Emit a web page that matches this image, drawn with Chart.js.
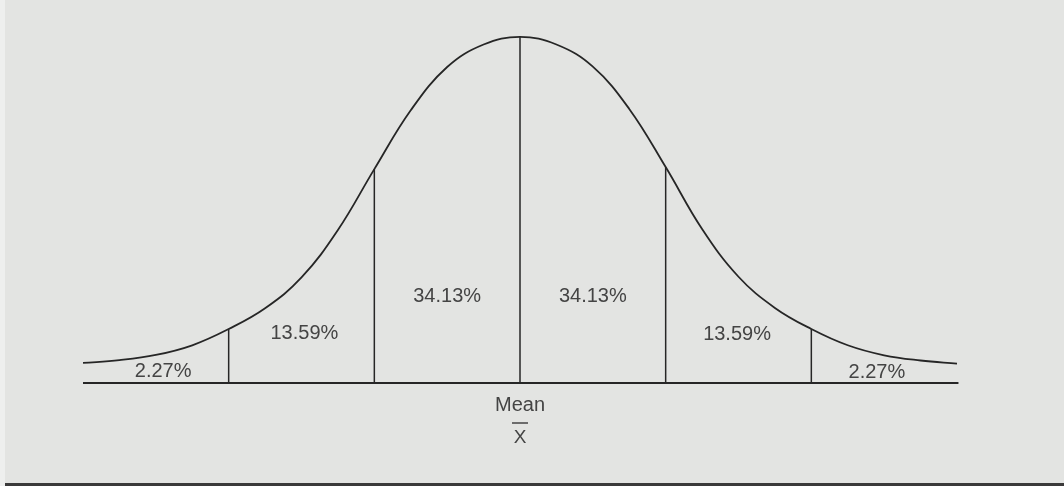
<!DOCTYPE html>
<html>
<head>
<meta charset="utf-8">
<title>Normal curve</title>
<script src="https://cdn.jsdelivr.net/npm/chart.js@4/dist/chart.umd.min.js"></script>
<style>
  html, body { margin: 0; padding: 0; background: #e3e4e2; }
  #wrap { position: relative; width: 1064px; height: 486px; overflow: hidden; }
  #edge { position: absolute; left: 0; top: 0; width: 5px; height: 486px; background: #eeefee; }
  #rule { position: absolute; left: 5px; right: 0; top: 483px; height: 3px; background: #3a3a3a; }
  canvas { position: absolute; left: 0; top: 0; }
</style>
</head>
<body>
<div id="wrap">
  <div id="edge"></div>
  <canvas id="myChart" width="1064" height="486"></canvas>
  <div id="rule"></div>
</div>
<script>
// standard deviations from the mean, and curve height (peak = 100)
const sigmas = [-3, -2.75, -2.5, -2.25, -2, -1.75, -1.5, -1.25, -1, -0.75, -0.5, -0.25, 0,
                0.25, 0.5, 0.75, 1, 1.25, 1.5, 1.75, 2, 2.25, 2.5, 2.75, 3];
const heights = [5.8, 6.6, 8.1, 10.9, 15.6, 21.6, 30.5, 44.2, 61.8, 78.8, 91.3, 97.8, 100,
                 97.8, 91.4, 79.2, 62.4, 44.5, 30.7, 21.7, 15.6, 10.9, 8.0, 6.5, 5.6];
// where the areas are split
const dividers = [-2, -1, 0, 1, 2];
// share of the area in each band, left to right
const bandLabels = ["2.27%", "13.59%", "34.13%", "34.13%", "13.59%", "2.27%"];
const meanLabel = "Mean";
const meanSymbol = "X";

const ink = "#262626";
const textInk = "#444444";

let curvePoints = sigmas.map((s, i) => ({ x: s, y: heights[i] }));

let datasets = [{
  data: curvePoints,
  borderColor: ink,
  borderWidth: 1.8,
  pointRadius: 0,
  tension: 0.4,
  clip: false
}, {
  // baseline
  data: [{ x: sigmas[0], y: 0 }, { x: sigmas[sigmas.length - 1] + 0.01, y: 0 }],
  borderColor: ink,
  borderWidth: 2,
  pointRadius: 0,
  clip: false
}];

dividers.forEach((d) => {
  let h = heights[sigmas.indexOf(d)];
  datasets.push({
    data: [{ x: d, y: 0 }, { x: d, y: h }],
    borderColor: ink,
    borderWidth: 1.5,
    pointRadius: 0,
    clip: false
  });
});

// band labels, mean and x-bar under the axis
const labelPlugin = {
  id: "bandText",
  afterDatasetsDraw(chart) {
    const ctx = chart.ctx;
    const xs = chart.scales.x;
    const ys = chart.scales.y;
    // label anchors: sigma position and height on the y scale
    const spots = [[-2.45, 3.2], [-1.48, 14.2], [-0.5, 24.9], [0.5, 24.9], [1.49, 14.0], [2.45, 3.1]];
    ctx.save();
    ctx.fillStyle = textInk;
    ctx.textAlign = "center";
    ctx.textBaseline = "middle";
    ctx.font = "20px 'Liberation Sans', Arial, sans-serif";
    bandLabels.forEach((t, i) => {
      ctx.fillText(t, xs.getPixelForValue(spots[i][0]), ys.getPixelForValue(spots[i][1]));
    });
    const cx = xs.getPixelForValue(0);
    const base = ys.getPixelForValue(0);
    ctx.fillText(meanLabel, cx, base + 22);
    ctx.font = "19px 'Liberation Sans', Arial, sans-serif";
    ctx.fillText(meanSymbol, cx, base + 55);
    // bar over the X
    ctx.strokeStyle = textInk;
    ctx.lineWidth = 1.5;
    ctx.beginPath();
    ctx.moveTo(cx - 8, base + 40);
    ctx.lineTo(cx + 8, base + 40);
    ctx.stroke();
    ctx.restore();
  }
};

new Chart(document.getElementById("myChart"), {
  type: "line",
  data: { datasets: datasets },
  options: {
    responsive: false,
    animation: false,
    events: [],
    layout: { padding: { left: 83, right: 107, top: 30, bottom: 103 } },
    plugins: {
      legend: { display: false },
      tooltip: { enabled: false },
      title: { display: false }
    },
    scales: {
      x: { type: "linear", min: -3, max: 3, display: false },
      y: { min: 0, max: 102, display: false }
    }
  },
  plugins: [labelPlugin]
});
</script>
</body>
</html>
